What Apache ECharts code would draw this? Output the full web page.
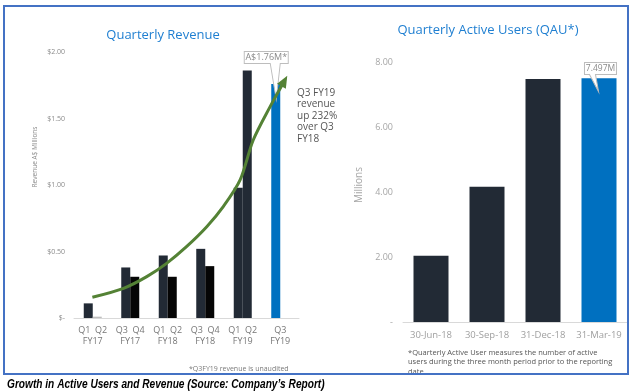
<!DOCTYPE html>
<html>
<head>
<meta charset="utf-8">
<script src="https://cdn.jsdelivr.net/npm/echarts@6/dist/echarts.min.js"></script>
<style>html,body{margin:0;padding:0;background:#fff}#c{width:632px;height:391px}</style>
</head>
<body>
<div id="c"></div>
<script>
// ---- data ----
const revCategories = ['Q1  Q2\nFY17', 'Q3  Q4\nFY17', 'Q1  Q2\nFY18', 'Q3  Q4\nFY18', 'Q1  Q2\nFY19', 'Q3\nFY19'];
const revFirstQuarter = [0.11, 0.38, 0.47, 0.52, 0.98, 1.76];
const revSecondQuarter = [0.01, 0.31, 0.31, 0.39, 1.86, null];
const revTickLabels = ['$-', '$0.50', '$1.00', '$1.50', '$2.00'];
const trendX = [-0.01, 0.82, 1.44, 1.97, 2.5, 3.04, 3.48, 3.93, 4.28, 4.73, 5.11];
const trendY = [0.156, 0.223, 0.311, 0.411, 0.536, 0.686, 0.837, 1.038, 1.338, 1.589, 1.782];
const qauCategories = ['30-Jun-18', '30-Sep-18', '31-Dec-18', '31-Mar-19'];
const qauValues = [2.04, 4.16, 7.48, 7.497];
const qauTickLabels = ['-', '2.00', '4.00', '6.00', '8.00'];

const NAVY = '#222a35', BLACK = '#050505', BLUE = '#0070c0', GREY = '#bfbfbf';
const FONT = '"Open Sans", "Noto Sans", sans-serif';

const firstColors = revFirstQuarter.map((v, i) => i === revFirstQuarter.length - 1 ? BLUE : NAVY);
const secondColors = [GREY, BLACK, BLACK, BLACK, NAVY, NAVY];

const trendData = trendX.map((x, i) => {
  const item = { value: [x, trendY[i]] };
  if (i === trendX.length - 1) {
    item.symbol = 'triangle'; item.symbolSize = [10, 12]; item.symbolRotate = -29;
  }
  return item;
});

const chart = echarts.init(document.getElementById('c'));
chart.setOption({
  animation: false,
  backgroundColor: '#fff',
  grid: [
    { left: 74, top: 52, width: 225, height: 266 },
    { left: 403, top: 62, width: 224, height: 260 }
  ],
  xAxis: [
    { type: 'category', gridIndex: 0, data: revCategories,
      axisLine: { lineStyle: { color: '#d9d9d9' } }, axisTick: { show: false },
      axisLabel: { interval: 0, color: '#777', fontSize: 9, lineHeight: 11, margin: 7, fontFamily: FONT } },
    { type: 'value', gridIndex: 0, min: -0.5, max: 5.5, show: false },
    { type: 'category', gridIndex: 1, data: qauCategories,
      axisLine: { lineStyle: { color: '#d9d9d9' } }, axisTick: { show: false },
      axisLabel: { interval: 0, color: '#a0a0a0', fontSize: 9.5, margin: 8, fontFamily: FONT } }
  ],
  yAxis: [
    { type: 'value', gridIndex: 0, min: 0, max: 2, interval: 0.5,
      splitLine: { show: false }, axisLine: { show: false }, axisTick: { show: false },
      axisLabel: { color: '#8a8a8a', fontSize: 7, margin: 9, fontFamily: FONT,
        formatter: v => revTickLabels[Math.round(v / 0.5)] } },
    { type: 'value', gridIndex: 1, min: 0, max: 8, interval: 2,
      splitLine: { show: false }, axisLine: { show: false }, axisTick: { show: false },
      axisLabel: { color: '#a6a6a6', fontSize: 9, margin: 10, fontFamily: FONT,
        formatter: v => qauTickLabels[Math.round(v / 2)] } }
  ],
  series: [
    { type: 'bar', xAxisIndex: 0, yAxisIndex: 0, barWidth: 9, barGap: '0%',
      data: revFirstQuarter.map((v, i) => ({ value: v, itemStyle: { color: firstColors[i] } })),
      markPoint: {
        data: [{ coord: [revCategories[5], revFirstQuarter[5]] }],
        symbol: 'path://M0,0H44V12H36L32,48L26,12H0Z',
        symbolSize: [44, 48], symbolKeepAspect: false,
        symbolOffset: [-9.5, -8.4],
        itemStyle: { color: '#fff', borderColor: '#bdbdbd', borderWidth: 1 },
        label: { show: true, position: 'inside', offset: [0, -18], formatter: 'A$1.76M*',
          color: '#8a8a8a', fontSize: 9, fontFamily: FONT }
      } },
    { type: 'bar', xAxisIndex: 0, yAxisIndex: 0, barWidth: 9,
      data: revSecondQuarter.map((v, i) => ({ value: v, itemStyle: { color: secondColors[i] } })) },
    { type: 'line', xAxisIndex: 1, yAxisIndex: 0, smooth: 0.3, symbol: 'none', showSymbol: true,
      lineStyle: { color: '#548235', width: 3 }, itemStyle: { color: '#548235' },
      data: trendData, z: 5 },
    { type: 'bar', xAxisIndex: 2, yAxisIndex: 1, barWidth: 35,
      data: qauValues.map((v, i) => ({ value: v, itemStyle: { color: i === qauValues.length - 1 ? BLUE : NAVY } })),
      markPoint: {
        data: [{ coord: [qauCategories[3], qauValues[3]] }],
        symbol: 'path://M0,0H32V12H11L14,29L5,12H0Z',
        symbolSize: [32, 29], symbolKeepAspect: false,
        symbolOffset: [1.5, -1.3],
        itemStyle: { color: '#fff', borderColor: '#bdbdbd', borderWidth: 1 },
        label: { show: true, position: 'inside', offset: [0, -8.5], formatter: '7.497M',
          color: '#8a8a8a', fontSize: 8.5, fontFamily: FONT }
      } }
  ],
  graphic: [
    { type: 'rect', shape: { x: 4, y: 6, width: 624, height: 368 }, style: { fill: 'none', stroke: '#4472c4', lineWidth: 2 }, z: 100 },
    { type: 'text', x: 163, y: 35, style: { text: 'Quarterly Revenue', fill: '#1f7fd1', font: '13px ' + FONT, textAlign: 'center', textVerticalAlign: 'middle' } },
    { type: 'text', x: 488, y: 30, style: { text: 'Quarterly Active Users (QAU*)', fill: '#1f7fd1', font: '13px ' + FONT, textAlign: 'center', textVerticalAlign: 'middle' } },
    { type: 'text', x: 35, y: 157, rotation: Math.PI / 2, style: { text: 'Revenue A$ Millions', fill: '#8a8a8a', font: '6.5px ' + FONT, textAlign: 'center', textVerticalAlign: 'middle' } },
    { type: 'text', x: 359, y: 185, rotation: Math.PI / 2, style: { text: 'Millions', fill: '#a6a6a6', font: '10px ' + FONT, textAlign: 'center', textVerticalAlign: 'middle' } },
    { type: 'text', x: 297, y: 87, style: { text: 'Q3 FY19\nrevenue\nup 232%\nover Q3\nFY18', fill: '#555', font: '10px ' + FONT, lineHeight: 11.6 } },
    { type: 'text', x: 189, y: 369, style: { text: '*Q3FY19 revenue is unaudited', fill: '#7a7a7a', font: '7px ' + FONT, textVerticalAlign: 'middle' } },
    { type: 'text', x: 408, y: 348, style: { text: '*Quarterly Active User measures the number of active\nusers during the three month period prior to the reporting\ndate.', fill: '#555', font: '7.5px ' + FONT, lineHeight: 9.5 } },
    { type: 'text', x: 7, y: 384, scaleX: 0.78, style: { text: 'Growth in Active Users and Revenue (Source: Company\u2019s Report)', fill: '#000', font: 'italic bold 13px "Liberation Sans", sans-serif', textVerticalAlign: 'middle' } }
  ]
});
</script>
</body>
</html>
